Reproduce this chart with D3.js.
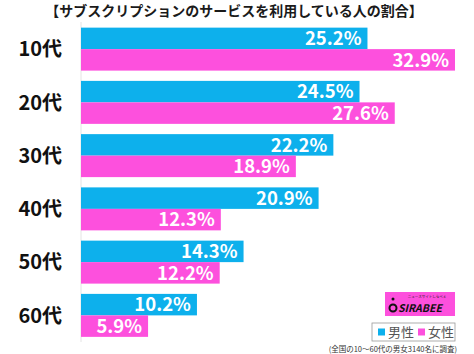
<!DOCTYPE html>
<html>
<head>
<meta charset="utf-8">
<script src="https://cdn.jsdelivr.net/npm/d3@7"></script>
<style>
  body { margin: 0; background: #fff; }
  text { font-family: "Noto Sans CJK JP", "DejaVu Sans", sans-serif; }
</style>
</head>
<body>
<div id="chart"></div>
<script>
/**
 * CONSTANTS AND DATA
 * */
const width = 474,
  height = 354;

const title = "【サブスクリプションのサービスを利用している人の割合】";
const ageGroups = ["10代", "20代", "30代", "40代", "50代", "60代"];
const seriesNames = ["男性", "女性"];
const maleValues = [25.2, 24.5, 22.2, 20.9, 14.3, 10.2];
const femaleValues = [32.9, 27.6, 18.9, 12.3, 12.2, 5.9];
const footnote = "(全国の10～60代の男女3140名に調査)";

const colors = { "男性": "#0db0ec", "女性": "#fd50dd" };

// build rows from the named arrays
const rows = ageGroups.map((g, i) => ({
  group: g,
  values: [
    { key: "男性", value: maleValues[i] },
    { key: "女性", value: femaleValues[i] }
  ]
}));

const svg = d3.select("#chart")
  .append("svg")
  .attr("width", width)
  .attr("height", height);

// SCALES
const xScale = d3.scaleLinear()
  .domain([0, 32.9])
  .range([81, 455]);

const yScale = d3.scaleBand()
  .domain(ageGroups)
  .range([22.5, 342])
  .paddingInner(0.193)
  .paddingOuter(0.0965);

const ySub = d3.scaleBand()
  .domain(seriesNames)
  .range([0, yScale.bandwidth()]);

// title
svg.append("text")
  .attr("x", 234)
  .attr("y", 16)
  .attr("text-anchor", "middle")
  .attr("font-size", 14)
  .attr("font-weight", "bold")
  .attr("fill", "#1a1a1a")
  .text(title);

// light axis line
svg.append("line")
  .attr("x1", xScale(0)).attr("x2", xScale(0))
  .attr("y1", 22).attr("y2", 342)
  .attr("stroke", "#e4e4e4")
  .attr("stroke-width", 1);

// category labels
svg.selectAll("text.cat")
  .data(ageGroups)
  .join("text")
  .attr("class", "cat")
  .attr("x", 62)
  .attr("y", d => yScale(d) + yScale.bandwidth() / 2)
  .attr("dy", "0.36em")
  .attr("text-anchor", "end")
  .attr("font-size", 20)
  .attr("font-weight", "bold")
  .attr("fill", "#111")
  .text(d => d);

// bars
const groups = svg.selectAll("g.group")
  .data(rows)
  .join("g")
  .attr("class", "group")
  .attr("transform", d => `translate(0,${yScale(d.group)})`);

groups.selectAll("rect")
  .data(d => d.values)
  .join("rect")
  .attr("x", xScale(0))
  .attr("y", d => ySub(d.key))
  .attr("width", d => xScale(d.value) - xScale(0))
  .attr("height", ySub.bandwidth())
  .attr("fill", d => colors[d.key]);

groups.selectAll("text.val")
  .data(d => d.values)
  .join("text")
  .attr("class", "val")
  .attr("x", d => xScale(d.value) - 6)
  .attr("y", d => ySub(d.key) + ySub.bandwidth() / 2)
  .attr("dy", "0.36em")
  .attr("text-anchor", "end")
  .attr("font-family", "DejaVu Sans, sans-serif")
  .attr("font-size", 18.5)
  .attr("font-weight", "bold")
  .attr("fill", "#fff")
  .text(d => d.value.toFixed(1) + "%");

// logo
const logo = svg.append("g").attr("transform", "translate(385,292)");
logo.append("rect")
  .attr("width", 70).attr("height", 24)
  .attr("fill", "#fd50dd");
logo.append("text")
  .attr("x", 42).attr("y", 6)
  .attr("text-anchor", "middle")
  .attr("font-size", 3.5)
  .attr("fill", "#222")
  .text("ニュースサイトしらべぇ");
logo.append("text")
  .attr("x", 13).attr("y", 20)
  .attr("font-family", "DejaVu Sans, sans-serif")
  .attr("font-size", 10.5)
  .attr("font-weight", "bold")
  .attr("font-style", "italic")
  .attr("fill", "#111")
  .text("SIRABEE");
logo.append("circle")
  .attr("cx", 8).attr("cy", 16).attr("r", 3.5)
  .attr("fill", "none").attr("stroke", "#111").attr("stroke-width", 2);
logo.append("circle")
  .attr("cx", 8).attr("cy", 7).attr("r", 1.5)
  .attr("fill", "#111");

// legend
const legend = svg.append("g").attr("transform", "translate(372,323)");
legend.append("rect")
  .attr("width", 83).attr("height", 18)
  .attr("fill", "#fff")
  .attr("stroke", "#999")
  .attr("stroke-width", 0.8);

const legendItems = legend.selectAll("g.item")
  .data(seriesNames)
  .join("g")
  .attr("class", "item")
  .attr("transform", (d, i) => `translate(${6 + i * 40},0)`);

legendItems.append("rect")
  .attr("y", 5.5)
  .attr("width", 7).attr("height", 7)
  .attr("fill", d => colors[d]);

legendItems.append("text")
  .attr("x", 10)
  .attr("y", 9)
  .attr("dy", "0.36em")
  .attr("font-size", 13)
  .attr("fill", "#555")
  .text(d => d);

// footnote
svg.append("text")
  .attr("x", 457)
  .attr("y", 352)
  .attr("text-anchor", "end")
  .attr("font-size", 7.5)
  .attr("fill", "#333")
  .text(footnote);
</script>
</body>
</html>
